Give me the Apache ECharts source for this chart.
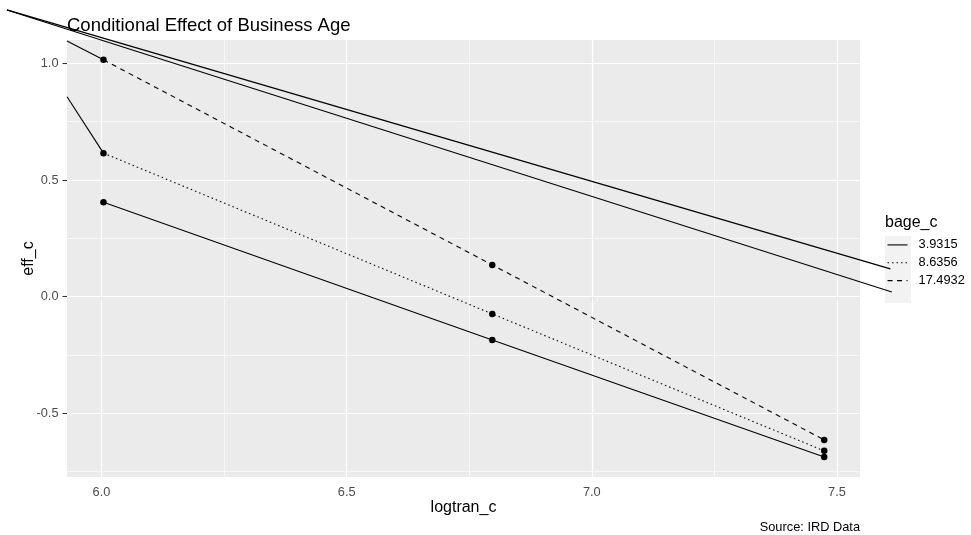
<!DOCTYPE html>
<html>
<head>
<meta charset="utf-8">
<script src="https://cdn.jsdelivr.net/npm/echarts@6/dist/echarts.min.js"></script>
<style>html,body{margin:0;padding:0;background:#fff}#c{width:971px;height:535px}</style>
</head>
<body>
<div id="c"></div>
<script>
// ---- data ----
const logtranC = [6.004, 6.797, 7.474];
const bageLevels = ['3.9315', '8.6356', '17.4932'];
const eff_3_9315 = [0.405, -0.186, -0.687];
const eff_8_6356 = [0.615, -0.074, -0.661];
const eff_17_4932 = [1.015, 0.136, -0.614];
const xTicks = [6.0, 6.5, 7.0, 7.5];
const xMinor = [6.25, 6.75, 7.25];
const yTicks = [-0.5, 0.0, 0.5, 1.0];
const yMinor = [-0.75, -0.25, 0.25, 0.75];
const xRange = [5.9296, 7.547];
const yRange = [-0.773, 1.1];
// stray path pieces visible in the reference
const strayEdgeY = [1.096, 0.857];          // at left panel edge, joining 17.4932 and 8.6356 first points
const strayLongStart = [5.807, 1.229];
const strayLongEnd1 = [7.609, 0.119];
const strayLongEnd2 = [7.612, 0.020];

const FONT = 'Liberation Sans, Arial, Helvetica, sans-serif';
const effBy = [eff_3_9315, eff_8_6356, eff_17_4932];
const lineTypes = ['solid', [1.5, 3], [5, 4.5]];

const chart = echarts.init(document.getElementById('c'));
const series = [];

// gridlines
series.push({
  type: 'line', name: 'gridMinor', data: [], z: 1, silent: true,
  markLine: {
    z: 1, silent: true, symbol: 'none', label: {show: false}, animation: false,
    lineStyle: {color: '#ffffff', width: 0.6, type: 'solid'},
    emphasis: {disabled: true},
    data: xMinor.map(v => ({xAxis: v})).concat(yMinor.map(v => ({yAxis: v})))
  }
});
series.push({
  type: 'line', name: 'gridMajor', data: [], z: 1, silent: true,
  markLine: {
    z: 1, silent: true, symbol: 'none', label: {show: false}, animation: false,
    lineStyle: {color: '#ffffff', width: 1.2, type: 'solid'},
    emphasis: {disabled: true},
    data: xTicks.map(v => ({xAxis: v})).concat(yTicks.map(v => ({yAxis: v})))
  }
});

bageLevels.forEach((name, i) => {
  series.push({
    type: 'line', name: name, symbol: 'none', z: 3,
    data: logtranC.map((x, j) => [x, effBy[i][j]]),
    lineStyle: {color: '#000', width: 1.1, type: lineTypes[i]},
    itemStyle: {color: '#000'},
    animation: false
  });
});

// stray segments at the panel edge
const strayStyle = {color: '#000', width: 1.1, type: 'solid'};
series.push({type: 'line', name: 's1', symbol: 'none', z: 3, animation: false,
  data: [[xRange[0], strayEdgeY[0]], [logtranC[0], eff_17_4932[0]]], lineStyle: strayStyle});
series.push({type: 'line', name: 's2', symbol: 'none', z: 3, animation: false,
  data: [[xRange[0], strayEdgeY[1]], [logtranC[0], eff_8_6356[0]]], lineStyle: strayStyle});

// points
const pts = [];
effBy.forEach(arr => arr.forEach((y, j) => pts.push([logtranC[j], y])));
series.push({type: 'scatter', name: 'pts', data: pts, symbol: 'circle', symbolSize: 6.5, z: 4,
  itemStyle: {color: '#000', opacity: 1}, animation: false});

const option = {
  animation: false,
  backgroundColor: '#ffffff',
  title: [
    {text: 'Conditional Effect of Business Age', left: 67, top: 16, padding: 0,
     textStyle: {fontFamily: FONT, fontSize: 18.5, fontWeight: 'normal', color: '#000'}},
    {text: 'bage_c', left: 885, top: 215, padding: 0,
     textStyle: {fontFamily: FONT, fontSize: 16, fontWeight: 'normal', color: '#000'}},
    {text: 'Source: IRD Data', right: 111, top: 521, padding: 0,
     textStyle: {fontFamily: FONT, fontSize: 12.8, fontWeight: 'normal', color: '#000'}}
  ],
  graphic: [
    {type: 'rect', left: 885, top: 236, shape: {width: 26, height: 67}, style: {fill: '#F2F2F2'}, z: 0, silent: true}
  ],
  legend: {
    data: bageLevels, orient: 'vertical', left: 887, top: 236, padding: 0,
    itemWidth: 20, itemHeight: 22.3, itemGap: 0, selectedMode: false,
    itemStyle: {color: 'rgba(0,0,0,0)', borderWidth: 0, opacity: 0},
    lineStyle: {width: 1.1, opacity: 1},
    textStyle: {fontFamily: FONT, fontSize: 12.8, color: '#000', padding: [0, 0, 0, 6]}
  },
  grid: {left: 67, right: 111, top: 40, bottom: 58, show: true, backgroundColor: '#EBEBEB', borderWidth: 0, containLabel: false},
  xAxis: {
    type: 'value', min: xRange[0], max: xRange[1],
    name: 'logtran_c', nameLocation: 'middle', nameGap: 23, nameMoveOverlap: false,
    nameTextStyle: {fontFamily: FONT, fontSize: 16, color: '#000'},
    axisLine: {show: false},
    axisTick: {show: true, length: 4.5, customValues: xTicks, lineStyle: {color: '#333333', width: 1.1}},
    axisLabel: {customValues: xTicks, formatter: v => v.toFixed(1), margin: 8.5,
      fontFamily: FONT, fontSize: 12.8, color: '#4D4D4D'},
    splitLine: {show: false}, minorSplitLine: {show: false}
  },
  yAxis: {
    type: 'value', min: yRange[0], max: yRange[1],
    name: 'eff_c', nameLocation: 'middle', nameGap: 30, nameRotate: 90, nameMoveOverlap: false,
    nameTextStyle: {fontFamily: FONT, fontSize: 16, color: '#000'},
    axisLine: {show: false},
    axisTick: {show: true, length: 4.5, customValues: yTicks, lineStyle: {color: '#333333', width: 1.1}},
    axisLabel: {customValues: yTicks, formatter: v => v.toFixed(1), margin: 8.5,
      fontFamily: FONT, fontSize: 12.8, color: '#4D4D4D'},
    splitLine: {show: false}, minorSplitLine: {show: false}
  },
  series: series
};
chart.setOption(option);

// long stray lines that run outside the panel: positioned through the chart's own scales
const p0 = chart.convertToPixel({gridIndex: 0}, strayLongStart);
const p1 = chart.convertToPixel({gridIndex: 0}, strayLongEnd1);
const p2 = chart.convertToPixel({gridIndex: 0}, strayLongEnd2);
chart.setOption({
  graphic: [
    {type: 'rect', left: 885, top: 236, shape: {width: 26, height: 67}, style: {fill: '#F2F2F2'}, z: 0, silent: true},
    {type: 'line', shape: {x1: p0[0], y1: p0[1], x2: p1[0], y2: p1[1]}, style: {stroke: '#000', lineWidth: 1.1}, z: 5, silent: true},
    {type: 'line', shape: {x1: p0[0], y1: p0[1], x2: p2[0], y2: p2[1]}, style: {stroke: '#000', lineWidth: 1.1}, z: 5, silent: true}
  ]
});
</script>
</body>
</html>
